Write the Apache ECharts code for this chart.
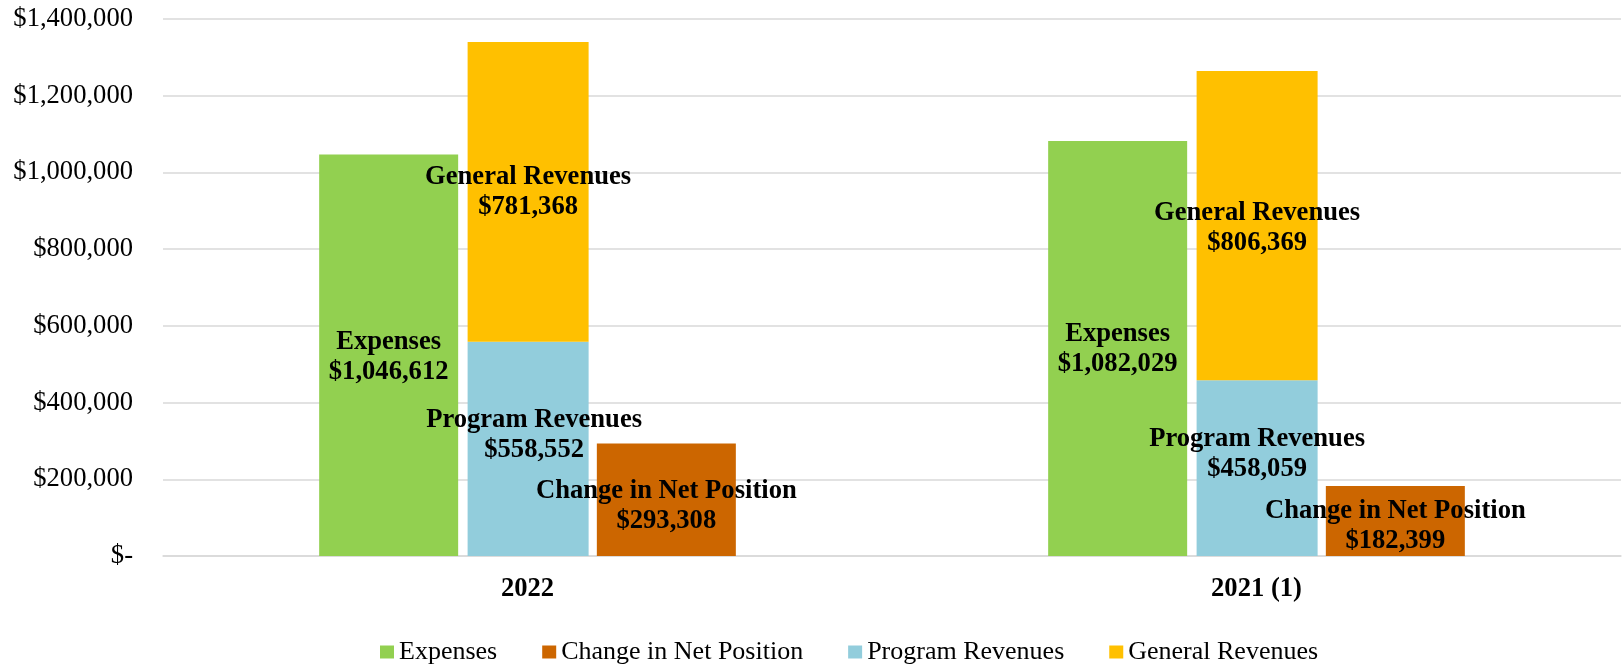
<!DOCTYPE html>
<html>
<head>
<meta charset="utf-8">
<script src="https://cdn.jsdelivr.net/npm/echarts@6/dist/echarts.min.js"></script>
<style>
  html, body { margin: 0; padding: 0; background: #fff; }
  #chart { width: 1622px; height: 666px; }
</style>
</head>
<body>
<div id="chart"></div>
<script>
// categories and values
const years = ['2022', '2021 (1)'];
const expenses = [1046612, 1082029];
const programRevenues = [558552, 458059];
const generalRevenues = [781368, 806369];
const changeInNetPosition = [293308, 182399];
const yTicks = [0, 200000, 400000, 600000, 800000, 1000000, 1200000, 1400000];

const FONT = "'Liberation Serif', 'Times New Roman', serif";

// hand-placed label nudges from the original (px, [x, y])
const labelNudge = {
  'Expenses': [[0, 2], [0, 1]],
  'General Revenues': [[0, 0], [0, 2]],
  'Program Revenues': [[6, -14], [0, -14]],
  'Change in Net Position': [[0, 6], [0, 5]]
};

function money(v) {
  return '$' + v.toLocaleString('en-US');
}

function barSeries(name, values, color, width, stack) {
  return {
    name: name,
    type: 'bar',
    stack: stack,
    barWidth: width,
    barGap: '6.8%',
    itemStyle: { color: color },
    data: values.map((v, i) => ({
      value: v,
      label: { offset: labelNudge[name][i] }
    })),
    label: {
      show: true,
      position: 'inside',
      fontFamily: FONT,
      fontWeight: 'bold',
      fontSize: 26.6,
      lineHeight: 30,
      color: '#000',
      formatter: p => name + '\n' + money(p.value)
    }
  };
}

let chart = echarts.init(document.getElementById('chart'));

chart.setOption({
  animation: false,
  textStyle: { fontFamily: FONT },
  grid: { left: 163, right: 1, top: 19, bottom: 110, containLabel: false },
  legend: {
    left: 375,
    top: 634,
    icon: 'rect',
    itemWidth: 14,
    itemHeight: 13,
    itemGap: 45,
    textStyle: { fontFamily: FONT, fontSize: 26, color: '#000' },
    data: ['Expenses', 'Change in Net Position', 'Program Revenues', 'General Revenues']
  },
  xAxis: {
    type: 'category',
    data: years,
    axisTick: { show: false },
    axisLine: { lineStyle: { color: '#d9d9d9', width: 1.5 } },
    axisLabel: {
      margin: 20,
      fontFamily: FONT,
      fontWeight: 'bold',
      fontSize: 26.6,
      color: '#000'
    }
  },
  yAxis: {
    type: 'value',
    min: yTicks[0],
    max: yTicks[yTicks.length - 1],
    interval: yTicks[1] - yTicks[0],
    axisLine: { show: false },
    axisTick: { show: false },
    splitLine: { lineStyle: { color: '#d9d9d9', width: 1.5 } },
    axisLabel: {
      margin: 30,
      fontFamily: FONT,
      fontSize: 26.6,
      color: '#000',
      formatter: v => v === 0 ? '$-' : money(v)
    }
  },
  series: [
    barSeries('Expenses', expenses, '#92D050', 139),
    barSeries('Program Revenues', programRevenues, '#92CDDC', 121, 'rev'),
    barSeries('General Revenues', generalRevenues, '#FFC000', 121, 'rev'),
    barSeries('Change in Net Position', changeInNetPosition, '#CC6600', 139)
  ]
});
</script>
</body>
</html>
